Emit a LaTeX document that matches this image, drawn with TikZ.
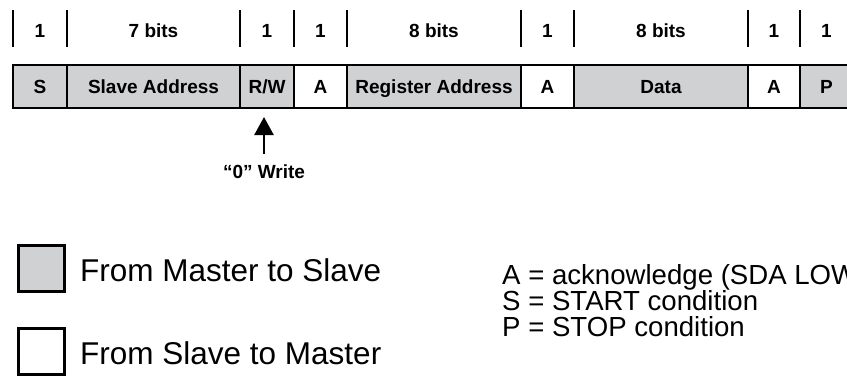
\documentclass[tikz,border=0pt]{standalone}
\usepackage{fontspec}
\setmainfont{Liberation Sans}
\usetikzlibrary{arrows.meta}
\definecolor{mgray}{RGB}{208,209,211}
\begin{document}
\begin{tikzpicture}[x=1pt,y=-1pt,
  field/.style={draw=black,line width=2pt,inner sep=0pt,minimum height=43pt,
    text height=13.5pt,text depth=0pt,
    font=\fontsize{19}{22}\selectfont\bfseries},
  mfield/.style={field,fill=mgray},
  sfield/.style={field,fill=white},
  bitlbl/.style={inner sep=0pt,text height=13.5pt,text depth=0pt,font=\fontsize{19}{22}\selectfont\bfseries},
  tick/.style={line width=2pt},
  legbox/.style={draw=black,line width=3pt,minimum width=46pt,minimum height=46pt,inner sep=0pt},
  legtxt/.style={anchor=base west,inner sep=0pt,font=\fontsize{31.5}{36}\selectfont},
  keytxt/.style={anchor=base west,inner sep=0pt,font=\fontsize{27.6}{32}\selectfont},
  wrarrow/.style={line width=2.5pt,-{Triangle[length=18pt,width=19pt]}}
]
\useasboundingbox (0,0) rectangle (847,376);
\clip (0,0) rectangle (847,376);
% bar fields
\node[mfield,minimum width=54pt]  (s)   at (40,86.5)  {S};
\node[mfield,minimum width=173pt] (sa)  at (153.5,86.5) {Slave Address};
\node[mfield,minimum width=54pt]  (rw)  at (267,86.5) {R/W};
\node[sfield,minimum width=53pt]  (a1)  at (320.5,86.5) {A};
\node[mfield,minimum width=174pt] (ra)  at (434,86.5) {Register Address};
\node[sfield,minimum width=53pt]  (a2)  at (547.5,86.5) {A};
\node[mfield,minimum width=174pt] (d)   at (661,86.5) {Data};
\node[sfield,minimum width=52pt]  (a3)  at (774,86.5) {A};
\node[mfield,minimum width=53pt]  (p)   at (826.5,86.5) {P};
% bit counts
\node[bitlbl] (b1) at (40,31) {1};
\node[bitlbl] (b2) at (153.5,31) {7 bits};
\node[bitlbl] (b3) at (267,31) {1};
\node[bitlbl] (b4) at (320.5,31) {1};
\node[bitlbl] (b5) at (434,31) {8 bits};
\node[bitlbl] (b6) at (547.5,31) {1};
\node[bitlbl] (b7) at (661,31) {8 bits};
\node[bitlbl] (b8) at (774,31) {1};
\node[bitlbl] (b9) at (826.5,31) {1};
\foreach \x in {13,67,240,294,347,521,574,748,800}
  \draw[tick] (\x,10) -- (\x,47);
% write arrow
\node[bitlbl] (wl) at (264,172) {“0” Write};
\coordinate (tail) at (264,154);
\coordinate (tip) at (264,117);
\draw[wrarrow] (tail) -- (tip);
% legend
\node[legbox,fill=mgray] (lg1) at (41.5,268) {};
\node[legbox,fill=white] (lg2) at (41.5,351) {};
\node[legtxt] (lt1) at (80,281) {From Master to Slave};
\node[legtxt] (lt2) at (80,364) {From Slave to Master};
% key
\node[keytxt] (k1) at (502,284) {A = acknowledge (SDA LOW)};
\node[keytxt] (k2) at (502,310) {S = START condition};
\node[keytxt] (k3) at (502,336) {P = STOP condition};
\end{tikzpicture}
\end{document}
